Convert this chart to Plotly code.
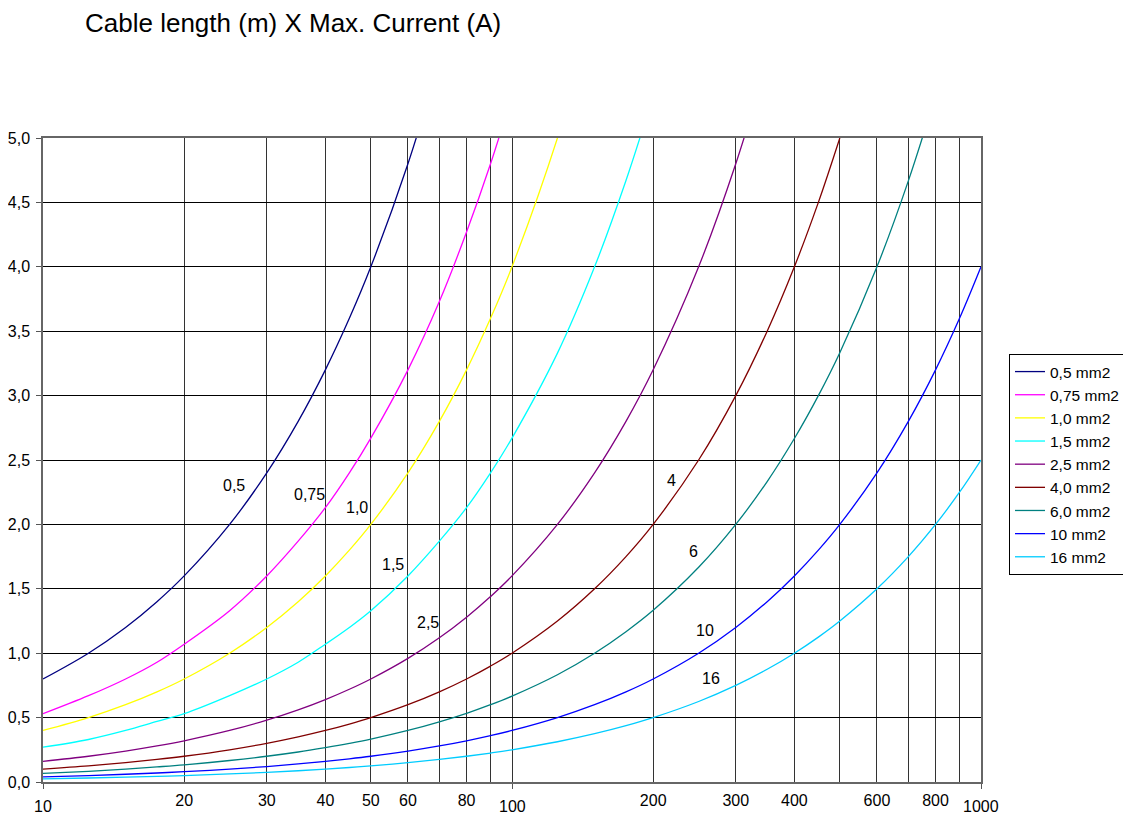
import math
import plotly.graph_objects as go

# Cable length (m) on x, max current (A) on y
x_len = [10, 12.5, 15, 17.5, 20, 25, 30, 35, 40, 45, 50, 60, 70, 80, 90, 100,
         125, 150, 175, 200, 250, 300, 350, 400, 450, 500, 600, 700, 800, 900, 1000]

y_05 = [0.8, 1.0, 1.2, 1.4, 1.6, 2.0, 2.4, 2.8, 3.2, 3.6, 4.0, 4.8, 5.6]
y_075 = [0.53, 0.67, 0.8, 0.93, 1.07, 1.33, 1.6, 1.87, 2.13, 2.4, 2.67, 3.2, 3.73, 4.27, 4.8, 5.33]
y_10 = [0.4, 0.5, 0.6, 0.7, 0.8, 1.0, 1.2, 1.4, 1.6, 1.8, 2.0, 2.4, 2.8, 3.2, 3.6, 4.0, 5.0, 6.0]
y_15 = [0.27, 0.33, 0.4, 0.47, 0.53, 0.67, 0.8, 0.93, 1.07, 1.2, 1.33, 1.6, 1.87, 2.13, 2.4, 2.67,
        3.33, 4.0, 4.67, 5.33]
y_25 = [0.16, 0.2, 0.24, 0.28, 0.32, 0.4, 0.48, 0.56, 0.64, 0.72, 0.8, 0.96, 1.12, 1.28, 1.44, 1.6,
        2.0, 2.4, 2.8, 3.2, 4.0, 4.8, 5.6]
y_40 = [0.1, 0.125, 0.15, 0.175, 0.2, 0.25, 0.3, 0.35, 0.4, 0.45, 0.5, 0.6, 0.7, 0.8, 0.9, 1.0,
        1.25, 1.5, 1.75, 2.0, 2.5, 3.0, 3.5, 4.0, 4.5, 5.0]
y_60 = [0.067, 0.083, 0.1, 0.117, 0.133, 0.167, 0.2, 0.233, 0.267, 0.3, 0.333, 0.4, 0.467, 0.533,
        0.6, 0.667, 0.833, 1.0, 1.167, 1.333, 1.667, 2.0, 2.333, 2.667, 3.0, 3.333, 4.0, 4.667, 5.333]
y_100 = [0.04, 0.05, 0.06, 0.07, 0.08, 0.1, 0.12, 0.14, 0.16, 0.18, 0.2, 0.24, 0.28, 0.32, 0.36, 0.4,
         0.5, 0.6, 0.7, 0.8, 1.0, 1.2, 1.4, 1.6, 1.8, 2.0, 2.4, 2.8, 3.2, 3.6, 4.0]
y_160 = [0.025, 0.031, 0.0375, 0.044, 0.05, 0.0625, 0.075, 0.0875, 0.1, 0.1125, 0.125, 0.15, 0.175,
         0.2, 0.225, 0.25, 0.3125, 0.375, 0.4375, 0.5, 0.625, 0.75, 0.875, 1.0, 1.125, 1.25, 1.5,
         1.75, 2.0, 2.25, 2.5]

series_names = ["0,5 mm2", "0,75 mm2", "1,0 mm2", "1,5 mm2", "2,5 mm2",
                "4,0 mm2", "6,0 mm2", "10 mm2", "16 mm2"]
series_values = [y_05, y_075, y_10, y_15, y_25, y_40, y_60, y_100, y_160]
series_colors = ["#000080", "#FF00FF", "#FFFF00", "#00FFFF", "#800080",
                 "#800000", "#008080", "#0000FF", "#00CCFF"]

# Curve labels (data coordinates)
label_text = ["0,5", "0,75", "1,0", "1,5", "2,5", "4", "6", "10", "16"]
label_x = [25.5, 37, 46.7, 55.7, 66.2, 219, 244, 258, 266]
label_y = [2.30, 2.23, 2.13, 1.69, 1.24, 2.34, 1.79, 1.18, 0.80]

grid_x = [10, 20, 30, 40, 50, 60, 70, 80, 90, 100, 200, 300, 400, 500, 600, 700, 800, 900, 1000]
grid_x_text = ["", "20", "30", "40", "50", "60", "", "80", "", "", "200", "300", "400", "",
               "600", "", "800", "", ""]
decade_x = [10, 100, 1000]
decade_text = ["10", "100", "1000"]
y_ticks = [0, 0.5, 1.0, 1.5, 2.0, 2.5, 3.0, 3.5, 4.0, 4.5, 5.0]
y_text = ["0,0", "0,5", "1,0", "1,5", "2,0", "2,5", "3,0", "3,5", "4,0", "4,5", "5,0"]

# The page body adds an 8px offset; size the figure so it fits the window.
W, H = 1123, 810
ML, MR, MT, MB = 35, 150, 130, 36
PW, PH = W - ML - MR, H - MT - MB

fig = go.Figure()
for name, ys, col in zip(series_names, series_values, series_colors):
    fig.add_trace(go.Scatter(
        x=x_len[:len(ys)], y=ys, mode="lines", name=name,
        line=dict(color=col, width=1.3, shape="spline", smoothing=1.0),
    ))

for t, xv, yv in zip(label_text, label_x, label_y):
    fig.add_annotation(x=math.log10(xv), y=yv, xref="x", yref="y", text=t, showarrow=False,
                       font=dict(size=16, color="#000000"))

for t, xv in zip(decade_text, decade_x):
    fig.add_annotation(x=math.log10(xv), y=0, xref="x", yref="paper", text=t, showarrow=False,
                       yanchor="top", yshift=-14, font=dict(size=16, color="#000000"))

fig.update_layout(
    width=W, height=H,
    paper_bgcolor="white", plot_bgcolor="white",
    font=dict(family="Liberation Sans, Arial, sans-serif", size=16, color="#000000"),
    margin=dict(l=ML, r=MR, t=MT, b=MB, autoexpand=False),
    title=dict(text="Cable length (m) X Max. Current (A)", x=77 / W, xanchor="left",
               y=1 - 15 / H, yanchor="middle", font=dict(size=26, color="#000000")),
    showlegend=True,
    legend=dict(x=(1001 - ML) / PW, y=(MT + PH - 346) / PH, xanchor="left", yanchor="top",
                bordercolor="#000000", borderwidth=1, bgcolor="white",
                font=dict(size=15.5), tracegroupgap=0, itemwidth=30),
    xaxis=dict(type="log", range=[1, 3], tickvals=grid_x, ticktext=grid_x_text,
               showgrid=True, gridcolor="#333333", gridwidth=1,
               showline=True, mirror=True, linecolor="#666666", linewidth=1.5,
               ticks="", ticklabelstandoff=3, zeroline=False,
               tickfont=dict(size=16),
               minor=dict(tickvals=decade_x, ticks="outside", ticklen=5,
                          tickcolor="#555555", showgrid=False)),
    yaxis=dict(range=[0, 5], tickvals=y_ticks, ticktext=y_text,
               showgrid=True, gridcolor="#000000", gridwidth=1,
               showline=True, mirror=True, linecolor="#666666", linewidth=1.5,
               ticks="outside", ticklen=5, tickcolor="#555555", ticklabelstandoff=3,
               zeroline=False, tickfont=dict(size=16)),
)

fig.write_html("out.html")
